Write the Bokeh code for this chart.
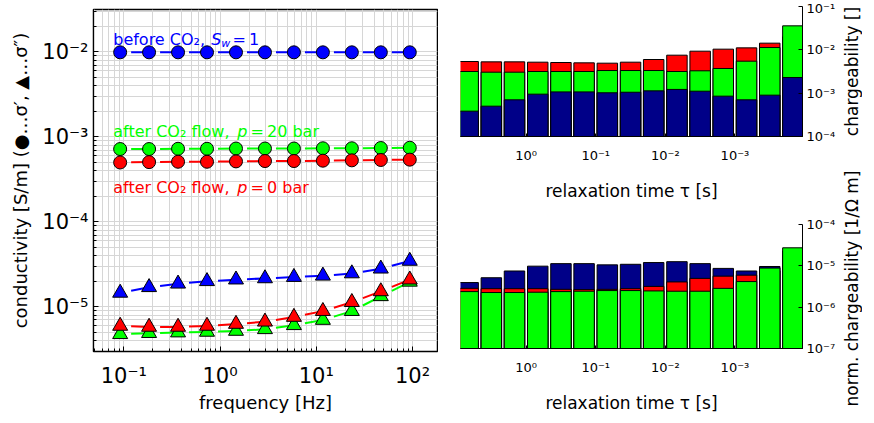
import numpy as np
from bokeh.plotting import figure
from bokeh.layouts import row, column
from bokeh.models import Label, FixedTicker, CustomJSTickFormatter
from bokeh.embed import file_html
from bokeh.resources import INLINE

FONT = "DejaVu Sans"
BLUE = "#0000FF"
GREEN = "#00FF00"
RED = "#FF0000"
NAVY = "#000088"

# ---------------- left panel: complex conductivity spectra ----------------
freq = [0.0916, 0.183, 0.366, 0.732, 1.465, 2.93, 5.86, 11.72, 23.44, 46.88, 93.75]
sig_re_before = [0.0099, 0.0099, 0.0099, 0.0099, 0.0099, 0.0099, 0.0099, 0.0099, 0.0099, 0.0099, 0.0099]
sig_re_p20 = [7.2e-4, 7.2e-4, 7.25e-4, 7.25e-4, 7.3e-4, 7.3e-4, 7.3e-4, 7.35e-4, 7.35e-4, 7.4e-4, 7.45e-4]
sig_re_p0 = [5.0e-4, 5.05e-4, 5.1e-4, 5.1e-4, 5.15e-4, 5.2e-4, 5.2e-4, 5.25e-4, 5.3e-4, 5.35e-4, 5.4e-4]
sig_im_before = [1.46e-5, 1.70e-5, 1.87e-5, 2.0e-5, 2.09e-5, 2.16e-5, 2.24e-5, 2.32e-5, 2.47e-5, 2.81e-5, 3.47e-5]
sig_im_p20 = [4.76e-6, 4.9e-6, 4.98e-6, 5.07e-6, 5.2e-6, 5.44e-6, 6.07e-6, 7.0e-6, 8.9e-6, 1.33e-5, 1.97e-5]
sig_im_p0 = [5.96e-6, 5.8e-6, 5.8e-6, 5.96e-6, 6.28e-6, 6.68e-6, 7.59e-6, 8.9e-6, 1.135e-5, 1.52e-5, 2.09e-5]

# ---------------- right panels: relaxation time distributions ----------------
tau = [6.81, 3.16, 1.47, 0.681, 0.316, 0.147, 0.0681, 0.0316, 0.0147,
       0.00681, 0.00316, 0.00147, 0.000681, 0.000316, 0.000147]
tau_ticks = [1.0, 0.1, 0.01, 0.001]
m_before = [3.84e-4, 5.01e-4, 7.02e-4, 9.48e-4, 1.07e-3, 1.07e-3, 1.02e-3, 1.05e-3,
            1.13e-3, 1.22e-3, 1.11e-3, 8.53e-4, 7.02e-4, 8.99e-4, 2.30e-3]
m_p20 = [3.16e-3, 3.05e-3, 3.05e-3, 3.16e-3, 3.16e-3, 3.16e-3, 3.33e-3, 3.33e-3,
         3.33e-3, 3.16e-3, 3.28e-3, 3.71e-3, 5.47e-3, 1.13e-2, 3.58e-2]
m_p0 = [5.38e-3, 5.28e-3, 5.28e-3, 5.19e-3, 5.1e-3, 5.01e-3, 4.92e-3, 5.19e-3,
        5.98e-3, 7.53e-3, 9.31e-3, 1.036e-2, 1.11e-2, 1.425e-2, 2.0e-2]
mn_before = [3.94e-6, 5.15e-6, 7.5e-6, 9.82e-6, 1.13e-5, 1.13e-5, 1.055e-5, 1.09e-5,
             1.2e-5, 1.26e-5, 1.13e-5, 8.67e-6, 7.5e-6, 9.64e-6, 2.28e-5]
mn_p20 = [2.38e-6, 2.26e-6, 2.26e-6, 2.3e-6, 2.38e-6, 2.43e-6, 2.52e-6, 2.52e-6,
          2.47e-6, 2.43e-6, 2.43e-6, 2.85e-6, 4.16e-6, 8.83e-6, 2.73e-5]
mn_p0 = [2.85e-6, 2.8e-6, 2.8e-6, 2.8e-6, 2.7e-6, 2.66e-6, 2.7e-6, 2.8e-6,
         3.18e-6, 4.08e-6, 4.97e-6, 5.63e-6, 5.94e-6, 7.6e-6, 1.08e-5]

SUP_JS = """
const sup = {"-":"⁻","0":"⁰","1":"¹","2":"²","3":"³","4":"⁴","5":"⁵","6":"⁶","7":"⁷","8":"⁸","9":"⁹"};
const e = Math.round(Math.log10(tick));
return "10" + String(e).split("").map(c => sup[c]).join("");
"""
TAU_JS = """
const sup = {"-":"⁻","0":"⁰","1":"¹","2":"²","3":"³","4":"⁴","5":"⁵","6":"⁶","7":"⁷","8":"⁸","9":"⁹"};
const e = Math.round(-tick) + 0;
return "10" + String(e).split("").map(c => sup[c]).join("");
"""


def style_axis(ax, tick_size, label_size):
    ax.major_label_text_font = FONT
    ax.major_label_text_font_size = tick_size
    ax.major_label_text_color = "black"
    ax.axis_label_text_font = FONT
    ax.axis_label_text_font_size = label_size
    ax.axis_label_text_font_style = "normal"
    ax.axis_label_text_color = "black"
    ax.axis_line_color = "black"
    ax.major_tick_line_color = "black"
    ax.minor_tick_line_color = "black"


p1 = figure(width=438, height=415, x_axis_type="log", y_axis_type="log",
            x_range=(0.0484, 182), y_range=(2.98e-6, 3.16e-2),
            output_backend="svg", toolbar_location=None,
            min_border_left=93, min_border_right=1, min_border_top=9, min_border_bottom=59)
p1.outline_line_color = "black"
p1.outline_line_width = 1.5
p1.background_fill_color = "white"
for g in (p1.xgrid[0], p1.ygrid[0]):
    g.grid_line_color = "#d6d6d6"
    g.minor_grid_line_color = "#d6d6d6"
    g.grid_line_width = 1
    g.minor_grid_line_width = 1

p1.xaxis.ticker = FixedTicker(ticks=[10.0 ** e for e in range(-1, 3)],
                              minor_ticks=[m * 10.0 ** e for e in range(-2, 3) for m in range(2, 10)])
p1.yaxis.ticker = FixedTicker(ticks=[10.0 ** e for e in range(-6, -1)],
                              minor_ticks=[m * 10.0 ** e for e in range(-7, -1) for m in range(2, 10)])
p1.xaxis.formatter = CustomJSTickFormatter(code=SUP_JS)
p1.yaxis.formatter = CustomJSTickFormatter(code=SUP_JS)
for ax in (p1.xaxis[0], p1.yaxis[0]):
    style_axis(ax, "21px", "18px")
    ax.major_tick_in = 5
    ax.major_tick_out = 0
    ax.minor_tick_in = 3
    ax.minor_tick_out = 0
p1.xaxis.axis_label = "frequency [Hz]"
p1.yaxis.axis_label = "conductivity [S/m] (●…σ′, ▲…σ″)"
p1.xaxis.major_label_standoff = 12
p1.xaxis.axis_label_standoff = 1
p1.yaxis.major_label_standoff = 5
p1.yaxis.axis_label_standoff = 8


def dashed(y, color):
    lx = np.log10(freq)
    ly = np.log10(y)
    f = 0.38
    x0 = 10 ** (lx[:-1] + f * np.diff(lx))
    y0 = 10 ** (ly[:-1] + f * np.diff(ly))
    p1.segment(x0, y0, freq[1:], y[1:], line_color=color, line_width=2)


series = [(sig_re_before, sig_im_before, BLUE),
          (sig_re_p20, sig_im_p20, GREEN),
          (sig_re_p0, sig_im_p0, RED)]
for re_, im_, c in series:
    dashed(re_, c)
    p1.scatter(freq, re_, marker="circle", size=13, fill_color=c, line_color="black", line_width=1)
for re_, im_, c in series:
    dashed(im_, c)
    p1.scatter(freq, im_, marker="triangle", size=15, fill_color=c, line_color="black", line_width=1)


def text_parts(x, y, parts, color):
    for txt, off, size, style, dy in parts:
        p1.add_layout(Label(x=x, y=y, text=txt, x_offset=off, y_offset=dy,
                            text_font=FONT, text_font_size=size, text_font_style=style,
                            text_color=color, text_align="left", text_baseline="alphabetic"))


text_parts(0.0776, 0.01416, [("before CO₂, ", 0, "16px", "normal", 0),
                             ("S", 98, "16px", "italic", 0),
                             ("w", 108, "11px", "italic", -4),
                             ("\u2009=\u20091", 116, "16px", "normal", 0)], BLUE)
text_parts(0.0776, 1.143e-3, [("after CO₂ flow, ", 0, "16px", "normal", 0),
                              ("p", 124, "16px", "italic", 0),
                              ("\u2009=\u200920 bar", 134, "16px", "normal", 0)], GREEN)
text_parts(0.0776, 2.51e-4, [("after CO₂ flow, ", 0, "16px", "normal", 0),
                             ("p", 124, "16px", "italic", 0),
                             ("\u2009=\u20090 bar", 134, "16px", "normal", 0)], RED)


# ---------------- right panels ----------------
def bar_fig(h, mbt, mbb, yr, yticks, layers):
    f = figure(width=400, height=h, y_axis_type="log", y_axis_location="right",
               x_range=(-0.943, 3.971), y_range=yr, output_backend="svg", toolbar_location=None,
               min_border_left=22, min_border_right=34, min_border_top=mbt, min_border_bottom=mbb)
    f.outline_line_color = None
    f.grid.grid_line_color = None
    xc = -np.log10(tau)
    # layers drawn back to front
    for vals, col in layers:
        f.quad(left=xc - 0.147, right=xc + 0.147, bottom=yr[0], top=vals,
               fill_color=col, line_color="black", line_width=1)
    ya = f.yaxis[0]
    ya.ticker = FixedTicker(ticks=yticks)
    ya.formatter = CustomJSTickFormatter(code=SUP_JS)
    style_axis(ya, "13px", "17px")
    ya.major_tick_in = 4
    ya.major_tick_out = 0
    ya.minor_tick_line_color = None
    ya.major_label_standoff = 4
    xa = f.xaxis[0]
    xa.ticker = FixedTicker(ticks=list(-np.log10(tau_ticks)))
    xa.formatter = CustomJSTickFormatter(code=TAU_JS)
    style_axis(xa, "13px", "17px")
    xa.major_tick_in = 3
    xa.major_tick_out = 0
    xa.minor_tick_line_color = None
    xa.major_label_standoff = 11
    xa.axis_label_standoff = 15
    xa.axis_label = "relaxation time τ [s]"
    return f


p2 = bar_fig(210, 6, 74, (1e-4, 1e-1), [1e-4, 1e-3, 1e-2, 1e-1],
             [(m_p0, RED), (m_p20, GREEN), (m_before, NAVY)])
p3 = bar_fig(205, 14, 63, (1e-7, 1e-4), [1e-7, 1e-6, 1e-5, 1e-4],
             [(mn_before, NAVY), (mn_p0, RED), (mn_p20, GREEN)])


# narrow strips that carry the rotated titles of the right panels' y-axes
def title_strip(h, mbt, mbb, title):
    s = figure(width=24, height=h, x_range=(0, 1), y_range=(0, 1),
               x_axis_location=None, y_axis_location="left",
               output_backend="svg", toolbar_location=None,
               min_border_left=20, min_border_right=0, min_border_top=mbt, min_border_bottom=mbb)
    s.outline_line_color = None
    s.grid.grid_line_color = None
    ax = s.yaxis[0]
    ax.ticker = FixedTicker(ticks=[])
    ax.axis_line_color = None
    ax.major_tick_line_color = None
    ax.minor_tick_line_color = None
    ax.major_label_text_font_size = "0px"
    ax.axis_label = title
    ax.axis_label_text_font = FONT
    ax.axis_label_text_font_size = "17px"
    ax.axis_label_text_font_style = "normal"
    ax.axis_label_text_color = "black"
    ax.axis_label_standoff = 0
    return s


s1 = title_strip(150, 6, 14, "chargeability []")
s2 = title_strip(265, 74, 63, "norm. chargeability [1/Ω m]")

layout = row(p1, column(p2, p3), column(s1, s2))
open("out.html", "w").write(file_html(layout, INLINE))
